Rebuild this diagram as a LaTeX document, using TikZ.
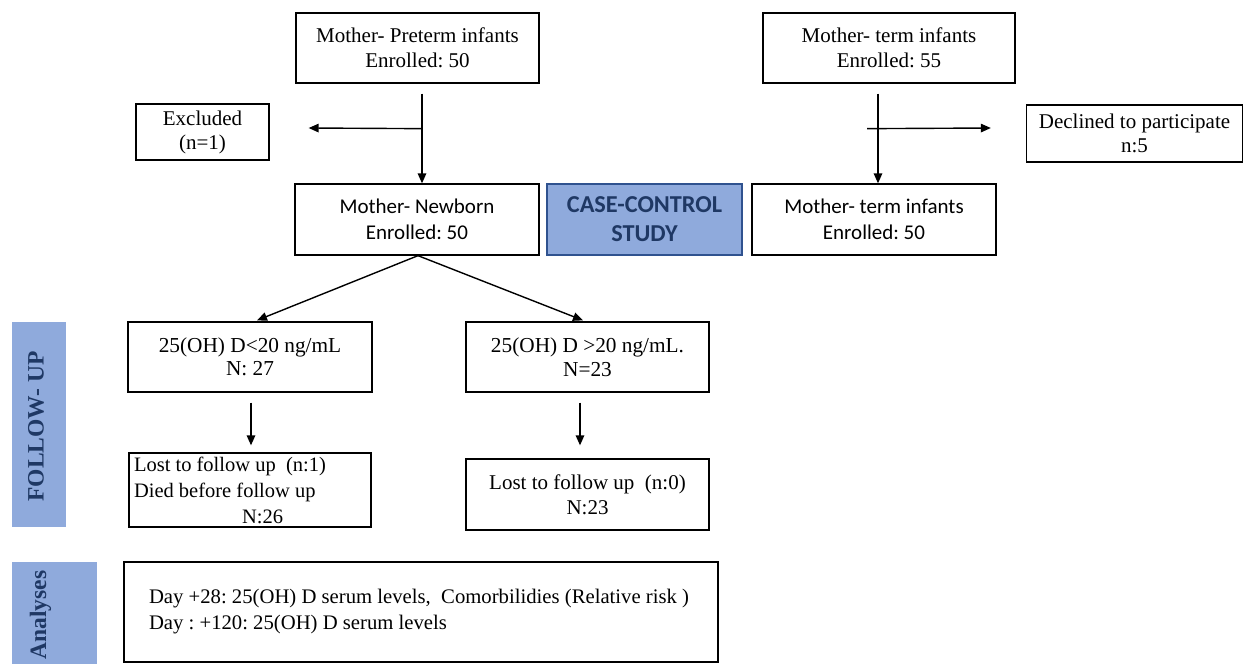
\documentclass[tikz,border=0pt]{standalone}
\usepackage{fontspec}
\setmainfont{Liberation Serif}
\newfontfamily\calibri{Carlito}
\usetikzlibrary{arrows.meta,calc}
\definecolor{lblue}{RGB}{143,170,220}
\definecolor{navy}{RGB}{31,56,100}
\definecolor{bord}{RGB}{47,82,143}
\frenchspacing
\begin{document}
\begin{tikzpicture}[x=1pt,y=-1pt,
  box/.style={draw=black,line width=1.3pt,fill=white,align=center,inner sep=0pt,
    font=\fontsize{21}{25.5}\selectfont},
  cbox/.style={box,font=\calibri\fontsize{21}{25.5}\selectfont},
  bluebox/.style={fill=lblue,inner sep=0pt},
  sidelabel/.style={rotate=90,text=navy,font=\bfseries\fontsize{23.5}{28}\selectfont},
  arr/.style={line width=1.4pt,-{Triangle[length=10pt,width=8.5pt]}}]
\useasboundingbox (0,0) rectangle (1244,664);

% boxes
\node[box,minimum width=243pt,minimum height=70pt] (tl) at (417.5,48) {Mother- Preterm infants\\Enrolled: 50};
\node[box,minimum width=252pt,minimum height=70pt] (tr) at (889,48) {Mother- term infants\\Enrolled: 55};
\node[box,minimum width=133pt,minimum height=56pt,font=\fontsize{21}{24}\selectfont] (excl) at (202.5,132) {Excluded\\(n=1)};
\node[box,minimum width=216pt,minimum height=57pt,font=\fontsize{21}{24}\selectfont] (decl) at (1134.5,133.5) {Declined to participate\\n:5};
\node[cbox,minimum width=244pt,minimum height=71pt] (newborn) at (417,219.5) {Mother- Newborn\\Enrolled: 50};
\node[draw=bord,line width=1.3pt,fill=lblue,minimum width=195pt,minimum height=71pt,inner sep=0pt,align=center,
  text=navy,font=\calibri\bfseries\fontsize{24.3}{29}\selectfont] (case) at (644.5,219.5) {CASE-CONTROL\\STUDY};
\node[cbox,minimum width=244pt,minimum height=71pt] (term) at (874,219.5) {Mother- term infants\\Enrolled: 50};
\node[box,minimum width=244pt,minimum height=70pt,font=\fontsize{21.3}{23.5}\selectfont] (low) at (250,357) {25(OH) D<20 ng/mL\\N: 27};
\node[box,minimum width=243pt,minimum height=70pt,font=\fontsize{21.3}{23.5}\selectfont] (high) at (587.5,357) {25(OH) D >20 ng/mL.\\N=23};
\node[box,minimum height=74pt,text width=232pt,inner xsep=5pt,align=flush left,font=\fontsize{20.5}{26}\selectfont] (lost1) at (250,490)
  {Lost to follow up~~(n:1)\\Died before follow up\\\hspace*{108pt}N:26};
\node[box,minimum width=243pt,minimum height=71pt] (lost0) at (587.5,494.5) {Lost to follow up~~(n:0)\\N:23};
\node[box,minimum height=100pt,text width=569pt,inner xsep=12.5pt,align=flush left,font=\fontsize{20.7}{26}\selectfont] (anl) at (421,612)
  {\hspace*{12.5pt}Day +28: 25(OH) D serum levels,~~Comorbilidies (Relative risk )\\\hspace*{12.5pt}Day : +120: 25(OH) D serum levels};

% side labels
\node[bluebox,minimum width=54pt,minimum height=205pt] (fu) at (39,424.5) {};
\node[sidelabel] at ($(fu.center)+(-3,2)$) {FOLLOW- UP};
\node[bluebox,minimum width=85pt,minimum height=102pt] (an) at (54.5,613) {};
\node[sidelabel] at ($(an.center)+(-14,2)$) {Analyses};

% connectors
\coordinate (jl) at ($(tl.south)+(4.5,45)$);
\coordinate (jr) at ($(tr.south)+(-11,45)$);
\draw[arr] ($(tl.south)+(4.5,10)$) -- ($(newborn.north)+(5,0)$);
\draw[arr] (jl) -- ($(excl.east)+(39,-4)$);
\draw[arr] ($(tr.south)+(-11,10)$) -- ($(term.north)+(4,0)$);
\draw[arr] ($(jr)+(-11,0)$) -- ($(decl.west)+(-35,-5.5)$);
\draw[arr] ($(newborn.south)+(1,0)$) -- ($(low.north)+(7,-1)$);
\draw[arr] ($(newborn.south)+(1,0)$) -- ($(high.north)+(-4.5,-1)$);
\draw[arr] ($(low.south)+(1,10)$) -- ($(lost1.north)+(1,-7)$);
\draw[arr] ($(high.south)+(-7.5,10)$) -- ($(lost0.north)+(-7.5,-13)$);
\end{tikzpicture}
\end{document}
